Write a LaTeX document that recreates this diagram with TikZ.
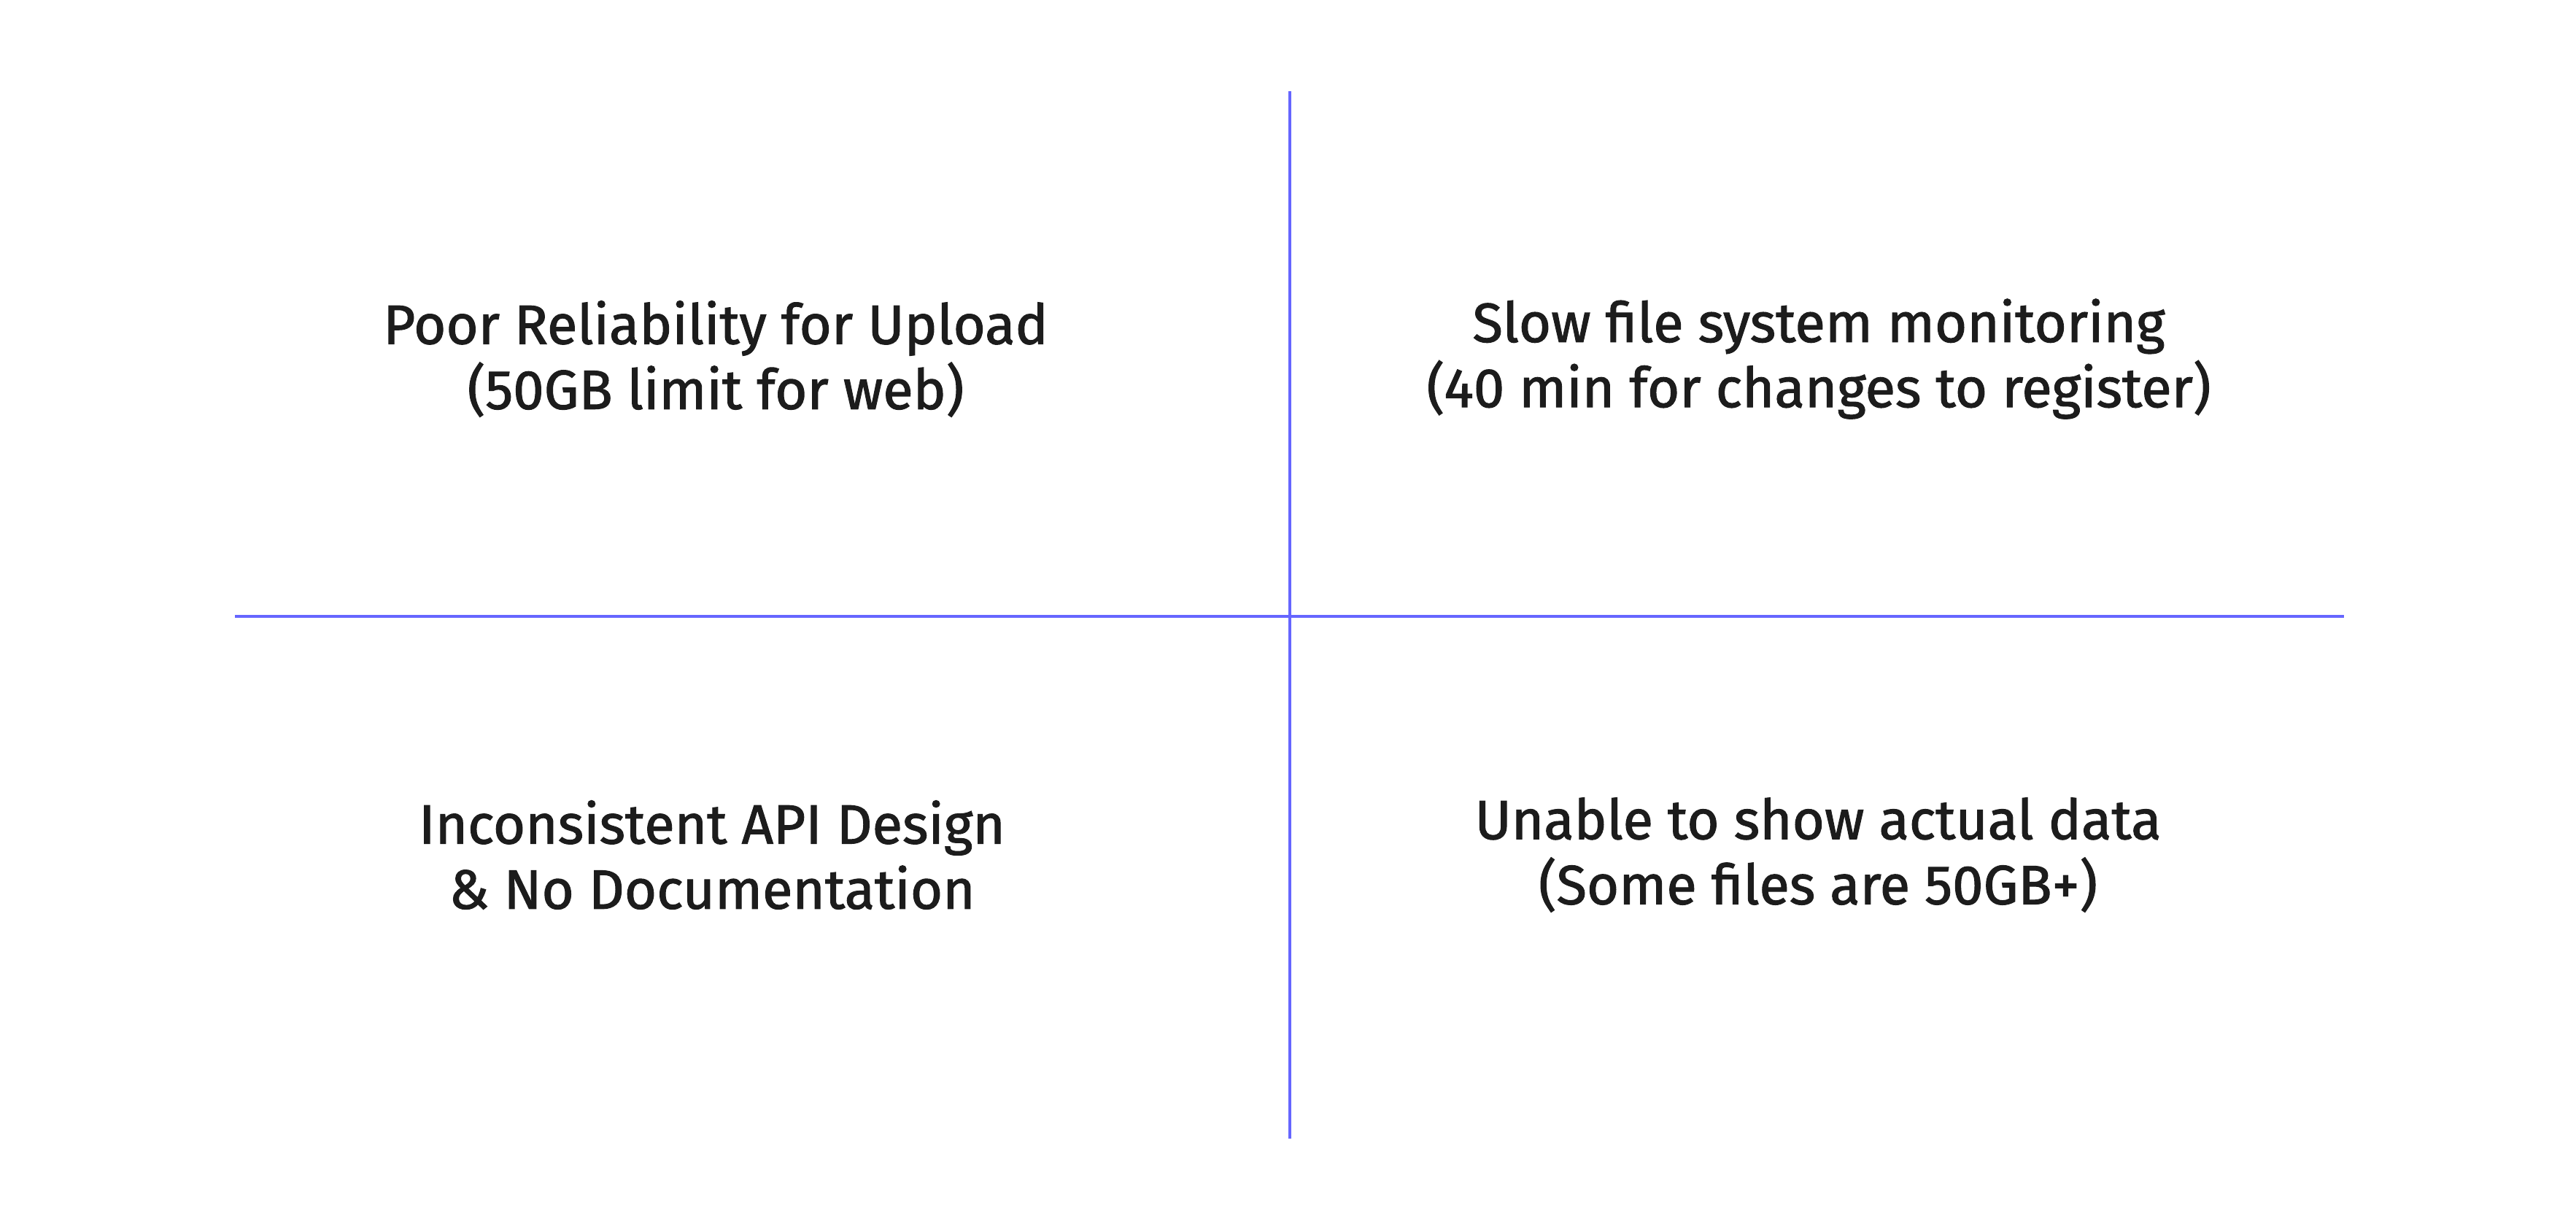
\documentclass[tikz,border=0pt]{standalone}
\usepackage{fontspec}
\setmainfont{Fira Sans}[UprightFeatures={FakeBold=1.4}]
\usetikzlibrary{positioning}
\definecolor{axisblue}{HTML}{6666FF}
\definecolor{ink}{HTML}{1C1C1C}
\tikzset{
  axis/.style={draw=axisblue, line width=1.15pt},
  pain/.style={align=center, text=ink, font=\fontsize{21.6}{25.4}\selectfont, inner sep=0pt}
}
\begin{document}
\begin{tikzpicture}
\useasboundingbox (0,0) rectangle (35.31,-16.89);

\coordinate (top) at (17.68,-1.25);
\coordinate (bottom) at (17.68,-15.61);
\coordinate (left) at (3.22,-8.45);
\coordinate (right) at (32.13,-8.45);

\draw[axis] (top) -- (bottom);
\draw[axis] (left) -- (right);

\node[pain] (upload) at (9.81,-4.92) {Poor Reliability for Upload\\(50GB limit for web)};
\node[pain] (monitor) at (24.93,-4.92) {Slow file system monitoring\\(40 min for changes to register)};
\node[pain] (api) at (9.76,-11.72) {Inconsistent API Design\\\& No Documentation};
\node[pain] (data) at (24.92,-11.72) {Unable to show actual data\\(Some files are 50GB+)};
\end{tikzpicture}
\end{document}
